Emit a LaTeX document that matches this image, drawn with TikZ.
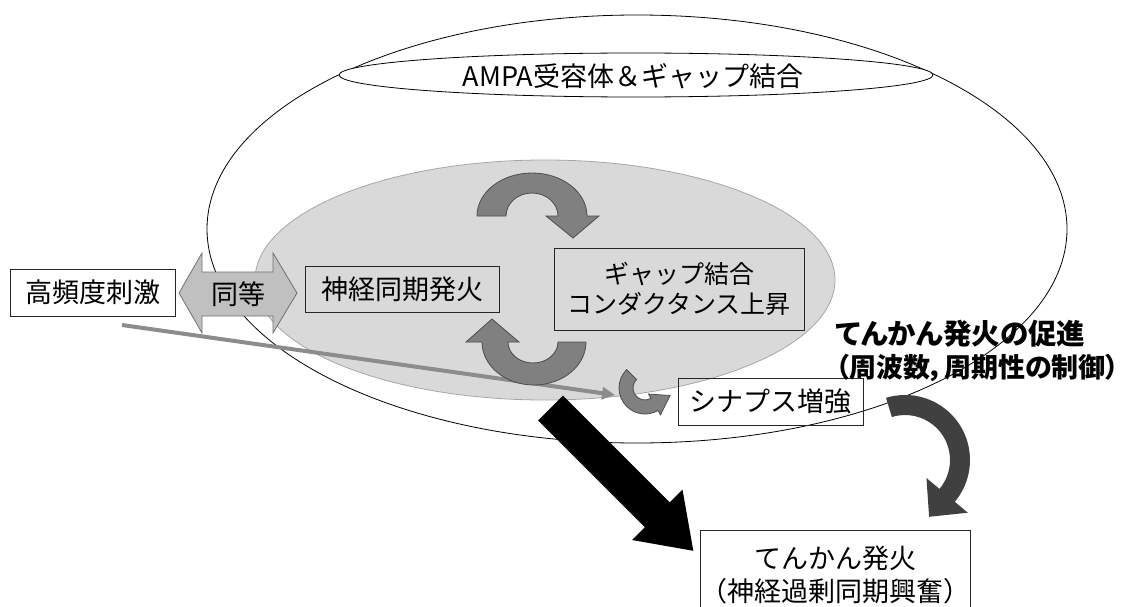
\documentclass[tikz,border=0pt]{standalone}
\usepackage{fontspec}
\setmainfont{Noto Sans CJK JP}
\newfontfamily\cjkprop{Noto Sans CJK JP}[RawFeature=+palt]
\usetikzlibrary{arrows.meta}
\definecolor{ellgray}{HTML}{D9D9D9}
\definecolor{ellline}{HTML}{A6A6A6}
\definecolor{midgray}{HTML}{808080}
\definecolor{edgegray}{HTML}{4D4D4D}
\definecolor{darkarrow}{HTML}{404040}
\definecolor{lightarrow}{HTML}{C0C0C0}
\definecolor{linegray}{HTML}{8C8C8C}
\begin{document}
\begin{tikzpicture}[x=1pt,y=1pt,
  box/.style={draw=black!85, line width=0.8pt, inner sep=0pt, align=center},
  bigtxt/.style={font=\fontsize{27}{33}\selectfont},
  midtxt/.style={font=\fontsize{25}{30}\selectfont},
  blockarrow/.style={fill=midgray, draw=edgegray, line width=0.8pt},
  thinell/.style={draw=black, line width=0.8pt}]
\useasboundingbox (0,0) rectangle (1140,-607);

% outer ellipse
\draw[thinell] (637,-229) ellipse [x radius=430, y radius=214];
% inner grey ellipse
\draw[fill=ellgray, draw=ellline, line width=0.8pt] (545,-280) ellipse [x radius=290, y radius=120];
% AMPA ellipse
\draw[thinell, fill=white] (636,-75) ellipse [x radius=297, y radius=22];
\node[bigtxt] (ampa) at (633,-76) {AMPA受容体＆ギャップ結合};

% grey connector
\coordinate (g1) at (122,-325);
\coordinate (g2) at (615,-395);
\draw[linegray, line width=4pt, -{Triangle[length=13pt,width=12pt]}] (g1) -- (g2);

% top curved arrow
\filldraw[blockarrow] (477,-216) arc[start angle=180, end angle=0, x radius=55, y radius=43]
  -- (599,-216) -- (573,-238) -- (546,-216) -- (558,-216)
  arc[start angle=0, end angle=180, x radius=26, y radius=23] -- cycle;
% bottom curved arrow
\filldraw[blockarrow] (586,-342) arc[start angle=0, end angle=-180, x radius=52, y radius=43]
  -- (466,-342) -- (492,-319) -- (519,-342) -- (508,-342)
  arc[start angle=180, end angle=360, x radius=25, y radius=21] -- cycle;
% small curved arrow
\filldraw[blockarrow] ([shift={(645,-388)}]135:26) arc[start angle=135, end angle=300, radius=26]
  -- ([shift={(645,-388)}]300:31) -- (670.1,-395.5) -- ([shift={(645,-388)}]300:7)
  -- ([shift={(645,-388)}]300:12) arc[start angle=300, end angle=135, radius=12] -- cycle;
% big dark curved arrow
\fill[darkarrow] ([shift={(905,-460)}]107:65) arc[start angle=107, end angle=-40, radius=65]
  -- ([shift={(905,-460)}]-40:82) -- (929.1,-516.8) -- ([shift={(905,-460)}]-40:28)
  -- ([shift={(905,-460)}]-40:45) arc[start angle=-40, end angle=107, radius=45] -- cycle;
% black arrow
\fill[black] (538.1,-420.4) -- (562.9,-395.6) -- (669.7,-502.4) -- (682.5,-489.6)
  -- (693.3,-550.8) -- (632.1,-540) -- (644.9,-527.2) -- cycle;
% double arrow (equivalent)
\filldraw[fill=lightarrow, draw=edgegray!80, line width=0.8pt]
  (179,-293) -- (202,-253) -- (202,-272) -- (273,-272) -- (273,-253) -- (297,-293)
  -- (273,-333) -- (273,-316) -- (202,-316) -- (202,-333) -- cycle;
\node[bigtxt] (doutou) at (238,-294) {同等};

% boxes
\node[box, bigtxt, minimum width=165pt, minimum height=47pt] (kohindo) at (92.5,-292.5) {高頻度刺激};
\node[box, bigtxt, minimum width=194pt, minimum height=46pt] (shinkei) at (402,-289) {神経同期発火};
\node[box, midtxt, minimum width=250pt, minimum height=82pt] (gap) at (679,-289) {ギャップ結合\\コンダクタンス上昇};
\node[box, bigtxt, minimum width=185pt, minimum height=47pt] (syn) at (770.5,-401.5) {シナプス増強};
\node[box, bigtxt, fill=white, minimum width=270pt, minimum height=90pt, anchor=north] (epi) at (835,-530) {てんかん発火\\（神経過剰同期興奮）};
\node[anchor=west, align=left, inner sep=0pt, font=\cjkprop\fontsize{27}{33}\selectfont\bfseries] (promo) at (836,-350.5) {{\fontsize{28.5}{33}\selectfont てんかん発火の促進}\\（周波数，周期性の制御）};
\end{tikzpicture}
\end{document}
